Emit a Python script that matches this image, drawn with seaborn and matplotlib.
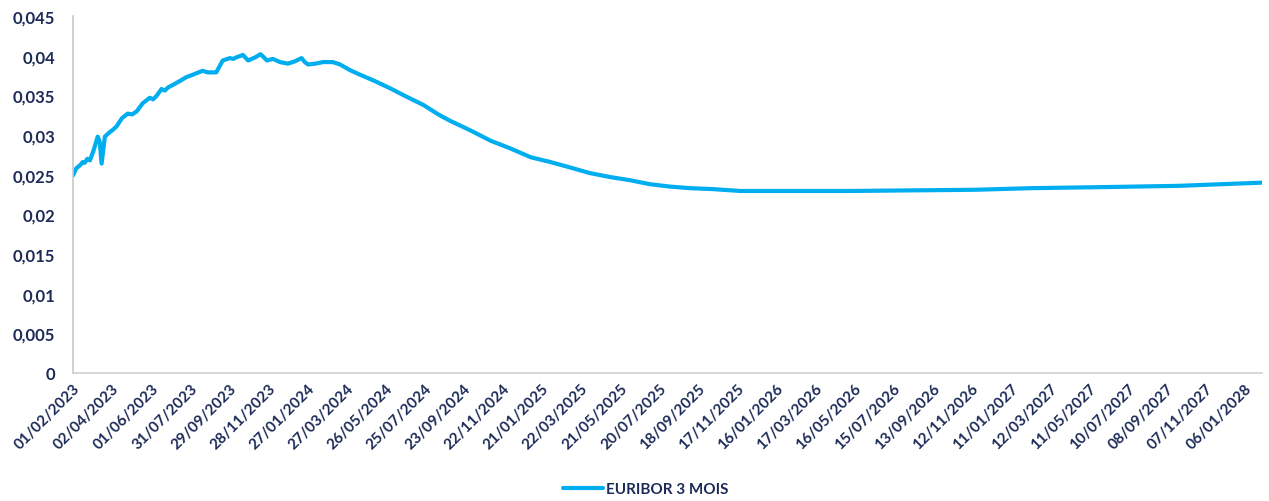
import pandas as pd
import matplotlib
matplotlib.use("Agg")
import matplotlib.pyplot as plt
import matplotlib.dates as mdates
from matplotlib.ticker import FuncFormatter
import seaborn as sns

# Values (3 month Euribor, forward curve)
dates = [
    "2023-02-01", "2023-02-06", "2023-02-12", "2023-02-16", "2023-02-19",
    "2023-02-23", "2023-02-27", "2023-03-04", "2023-03-11", "2023-03-14",
    "2023-03-17", "2023-03-22", "2023-03-30", "2023-04-04", "2023-04-09",
    "2023-04-17", "2023-04-26", "2023-05-03", "2023-05-10", "2023-05-19",
    "2023-05-30", "2023-06-04", "2023-06-09", "2023-06-17", "2023-06-22",
    "2023-06-27", "2023-07-04", "2023-07-15", "2023-07-25", "2023-08-04",
    "2023-08-19", "2023-08-27", "2023-09-09", "2023-09-19", "2023-09-30",
    "2023-10-05", "2023-10-10", "2023-10-20", "2023-10-28", "2023-11-08",
    "2023-11-16", "2023-11-26", "2023-12-05", "2023-12-16", "2023-12-28",
    "2024-01-08", "2024-01-18", "2024-01-23", "2024-01-28", "2024-02-08",
    "2024-02-20", "2024-03-06", "2024-03-17", "2024-04-01", "2024-04-17",
    "2024-05-07", "2024-06-02", "2024-06-28", "2024-07-23", "2024-08-15",
    "2024-09-02", "2024-10-03", "2024-11-03", "2024-12-04", "2025-01-04",
    "2025-02-03", "2025-03-06", "2025-04-05", "2025-05-06", "2025-06-06",
    "2025-07-06", "2025-08-06", "2025-09-06", "2025-10-07", "2025-11-22",
    "2026-05-10", "2026-11-18", "2027-02-10", "2027-06-13", "2027-09-28",
    "2028-02-01",
]
euribor_3m = [
    0.0249, 0.0258, 0.0262, 0.0266, 0.0265,
    0.0270, 0.0268, 0.0279, 0.0298, 0.0292,
    0.0264, 0.0298, 0.0304, 0.0307, 0.0311,
    0.0321, 0.0327, 0.0326, 0.0330, 0.0340,
    0.0347, 0.0345, 0.0349, 0.0358, 0.0356,
    0.0360, 0.0363, 0.0368, 0.0373, 0.0376,
    0.0381, 0.0379, 0.0379, 0.0394, 0.0397,
    0.0396, 0.0398, 0.0401, 0.0394, 0.0398,
    0.0402, 0.0394, 0.0396, 0.0392, 0.0390,
    0.0393, 0.0397, 0.0392, 0.0389, 0.0390,
    0.0392, 0.0392, 0.0389, 0.0382, 0.0376,
    0.0369, 0.0359, 0.0348, 0.0338, 0.0326,
    0.0318, 0.0306, 0.0293, 0.0283, 0.0272,
    0.0266, 0.0259, 0.0252, 0.0247, 0.0243,
    0.0238, 0.0235, 0.0233, 0.0232, 0.02295,
    0.02295, 0.0231, 0.0233, 0.02345, 0.0236,
    0.0240,
]
series_name = "EURIBOR 3 MOIS"

df = pd.DataFrame({"date": pd.to_datetime(dates), "rate": euribor_3m})
df["serie"] = series_name

sns.set_style("white")
plt.rcParams["font.family"] = ["Lato", "DejaVu Sans"]

navy = "#1c2b57"
blue = "#00aeef"

fig = plt.figure(figsize=(12.69, 5.02), dpi=100)
ax = fig.add_axes([0.0575, 0.255, 0.937, 0.711])

sns.lineplot(data=df, x="date", y="rate", hue="serie", palette=[blue],
             linewidth=3, ax=ax, legend=True)

# x axis: one tick every 60 days from the first date, like Excel
start = df["date"].iloc[0]
end = df["date"].iloc[-1]
ticks = pd.date_range(start, end, freq="60D")
ax.set_xlim(start, end)
ax.set_xticks(ticks)
ax.xaxis.set_major_formatter(mdates.DateFormatter("%d/%m/%Y"))
plt.setp(ax.get_xticklabels(), rotation=45, ha="right", rotation_mode="anchor",
         fontsize=11, fontweight="bold", color=navy)

ax.set_ylim(0, 0.045)
ax.set_yticks([i * 0.005 for i in range(10)])
ax.yaxis.set_major_formatter(FuncFormatter(lambda v, p: f"{v:g}".replace(".", ",")))
plt.setp(ax.get_yticklabels(), fontsize=12, fontweight="bold", color=navy)

ax.tick_params(axis="x", length=0, pad=6)
ax.tick_params(axis="y", length=0, pad=13)
ax.set_xlabel("")
ax.set_ylabel("")

for side in ["top", "right"]:
    ax.spines[side].set_visible(False)
ax.spines["left"].set_color("#c8c8c8")
ax.spines["bottom"].set_color("#d0d0d0")
ax.spines["left"].set_linewidth(1.2)
ax.spines["bottom"].set_linewidth(1.2)

# Legend under the chart
ax.get_legend().remove()
handles, labels = ax.get_legend_handles_labels()
leg = fig.legend(handles, labels, loc="center", bbox_to_anchor=(0.509, 0.024),
                 frameon=False, handlelength=2.6, handletextpad=0.2,
                 prop={"size": 11, "weight": "bold"})
for t in leg.get_texts():
    t.set_color(navy)

fig.savefig("out.png", dpi=100)
